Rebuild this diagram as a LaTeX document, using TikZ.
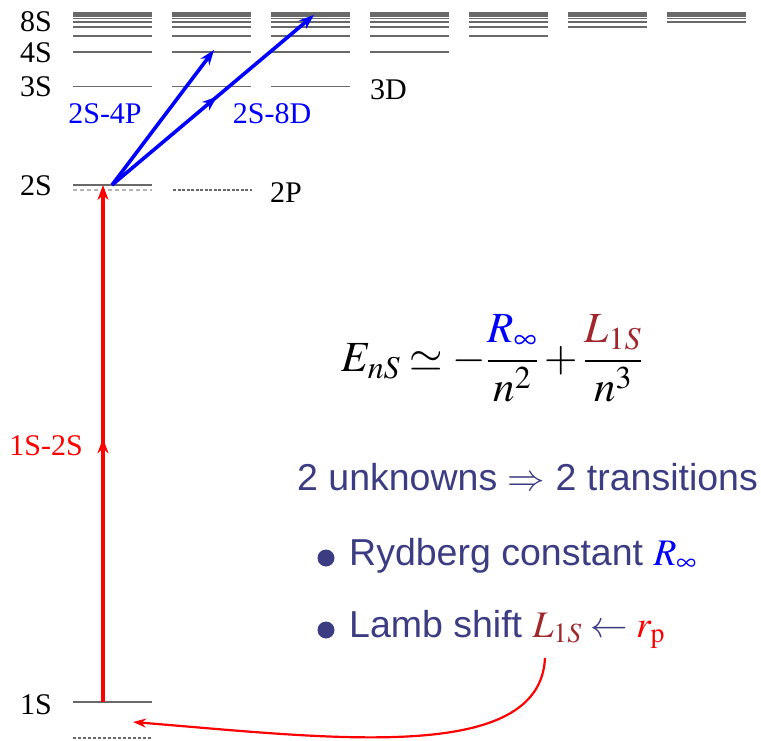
\documentclass[tikz,border=0pt]{standalone}
\usepackage{mathptmx}
\usepackage{fontspec}
\setmainfont{Liberation Serif}
\setsansfont{Liberation Sans}
\usetikzlibrary{arrows.meta,decorations.markings}

\definecolor{levelgray}{RGB}{105,105,105}
\definecolor{lambred}{RGB}{160,40,45}
\definecolor{slateblue}{RGB}{60,60,130}

\begin{document}
\begin{tikzpicture}[x=1pt,y=-1pt,>={Stealth[length=15pt,width=11pt]},
  level/.style={draw=levelgray,line width=1.6pt},
  dashlevel/.style={draw=levelgray,line width=1.6pt,dash pattern=on 4pt off 3pt},
  state label/.style={font=\fontsize{30}{30}\selectfont,inner sep=0pt},
  sans text/.style={font=\sffamily\fontsize{37.5}{37.5}\selectfont,text=slateblue,inner sep=0pt},
  mid arrow/.style={postaction={decorate},decoration={markings,mark=at position #1 with {\arrow{>}}}},
  transition/.style={line width=3.6pt}]
  \useasboundingbox (0,0) rectangle (761,741);

  % Energy levels, one column per angular momentum
  \foreach \l in {0,...,6}{
    \pgfmathtruncatemacro\nmin{max(3,\l+1)}
    \foreach \n in {\nmin,...,12}
      \draw[level] ({73+99*\l},{7.5+710/(\n*\n)}) -- ++(79,0);
  }
  \draw[level] (73,185) -- (152,185);
  \draw[dashlevel,draw=levelgray!50] (73,190) -- (152,190);
  \draw[dashlevel,dash pattern=on 3pt off 1.5pt] (173,190) -- (252,190);
  \draw[level] (73,702) -- (152,702);
  \draw[dashlevel,dash pattern=on 3pt off 2pt] (73,738) -- (152,738);

  % Level labels
  \node[state label,anchor=east] (l8S) at (52,22) {8S};
  \node[state label,anchor=east] (l4S) at (52,53) {4S};
  \node[state label,anchor=east] (l3S) at (52,87) {3S};
  \node[state label,anchor=east] (l2S) at (52,186) {2S};
  \node[state label,anchor=east] (l1S) at (52,705) {1S};
  \node[state label,anchor=west] (l3D) at (370,90) {3D};
  \node[state label,anchor=west] (l2P) at (270,193) {2P};

  % End points of the transitions
  \coordinate (g1S) at (103,702);
  \coordinate (g2S) at (103,185);
  \coordinate (e2S) at (112,185);
  \coordinate (e4P) at (214,50);
  \coordinate (e8D) at (314,15);

  % Draw transitions
  \draw[transition,red,->,mid arrow=0.51] (g1S) -- (g2S);
  \draw[transition,blue,->] (e2S) -- (e4P);
  \draw[transition,blue,->,mid arrow=0.52] (e2S) -- (e8D);
  \node[state label,text=red,anchor=east] (t1S2S) at (83,446) {1S-2S};
  \node[state label,text=blue] (t2S4P) at (105,114) {2S-4P};
  \node[state label,text=blue] (t2S8D) at (272,114) {2S-8D};

  % Formula and text
  \node[font=\fontsize{43}{43}\selectfont] (energy) at (492,358)
    {$\displaystyle E_{nS}\simeq-\frac{\textcolor{blue}{R_\infty}}{n^2}+\frac{\textcolor{lambred}{L_{1S}}}{n^3}$};
  \node[sans text,anchor=base west] (unknowns) at (297,490) {2 unknowns $\Rightarrow$ 2 transitions};
  \fill[slateblue] (326,558) circle (8.5);
  \node[sans text,anchor=base west] (rydberg) at (349,565) {Rydberg constant $\textcolor{blue}{R_\infty}$};
  \fill[slateblue] (326,630) circle (8.5);
  \node[sans text,anchor=base west] (lamb) at (349,637) {Lamb shift $\textcolor{lambred}{L_{1S}}\leftarrow\textcolor{red}{r_{\mathrm{p}}}$};

  % Proton radius feeds the 1S level
  \coordinate (lambfoot) at (545,658);
  \coordinate (g1Stip) at (133,722);
  \draw[red,line width=2.2pt,-{Stealth[length=13pt,width=9pt]}] (lambfoot) .. controls (540,765) and (330,738) .. (g1Stip);
\end{tikzpicture}
\end{document}
